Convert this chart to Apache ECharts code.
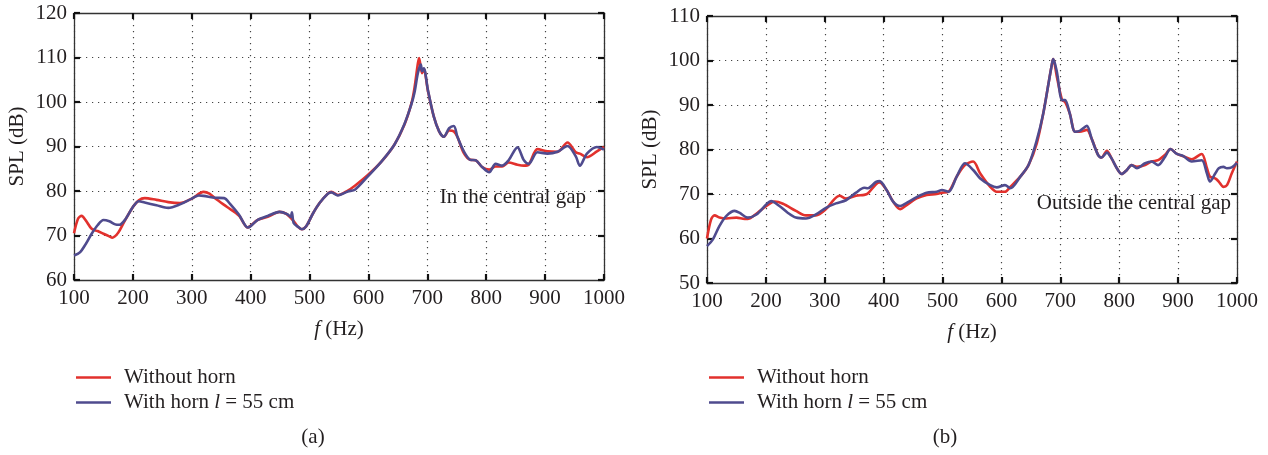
<!DOCTYPE html>
<html>
<head>
<meta charset="utf-8">
<title>SPL with and without horn</title>
<script src="https://cdn.jsdelivr.net/npm/echarts@6/dist/echarts.min.js"></script>
<style>
  html, body { margin: 0; padding: 0; background: #fff; }
  #chart { width: 1268px; height: 455px; }
</style>
</head>
<body>
<div id="chart"></div>
<script>
// (a) in the central gap
const freqA_red = [100,107,113,120,130,140,150,160,165,175,185,200,210,220,240,260,280,300,320,330,340,360,380,395,400,412,429,449,460,472,480,487,494,506,517,531,537,548,565,577,599,622,644,661,673,678,684,686,691,694,701,711,720,728,737,745,751,762,773,782,793,805,816,827,838,853,864,872,887,904,921,938,952,959,971,988,1000];
const splA_red = [70.5,73.8,74.4,73.4,71.5,71.0,70.4,69.8,69.5,70.6,73.0,76.4,77.9,78.4,78.0,77.5,77.3,78.3,79.8,79.4,78.3,76.4,74.5,71.8,72.2,73.5,74.2,75.3,74.9,73.4,72.0,71.4,72.0,75.0,77.3,79.4,79.8,79.1,80.1,81.2,83.6,86.6,90.4,94.9,99.7,103,108.7,109.9,106.5,107.4,102.5,96.7,93.4,92.2,93.6,93.4,92.2,88.5,87.0,86.9,85.4,84.8,85.5,85.5,86.4,85.9,85.7,85.9,89.4,88.9,88.8,90.9,88.7,88.4,87.6,88.9,89.9];
const freqA_blue = [100,110,120,130,140,150,160,170,177,187,200,210,220,240,260,280,300,312,320,340,355,365,380,395,400,412,429,449,462,468,470,473,480,487,494,506,517,531,537,548,565,577,599,622,644,661,673,678,684,689,691,694,701,711,720,728,737,745,751,762,773,782,793,805,816,827,838,853,864,872,887,904,921,938,952,959,971,988,1000];
const splA_blue = [65.5,66.2,68.1,70.4,72.3,73.5,73.2,72.5,72.4,73.6,76.4,77.7,77.4,76.8,76.2,77.0,78.3,79.0,78.9,78.5,78.4,77.1,74.7,71.8,72.1,73.5,74.4,75.3,74.8,74.2,75.2,72.8,72.0,71.4,72.0,75.0,77.3,79.4,79.7,79.0,79.9,80.3,83.3,86.6,90.4,95.0,99.5,102,106.5,108.4,106.9,107.6,102.7,96.7,93.4,92.2,94.1,94.6,92.2,88.9,87.0,86.9,85.4,84.2,86.1,85.7,86.9,89.8,86.9,86.1,88.7,88.4,88.8,90.1,87.8,85.7,88.4,89.9,89.3];

// (b) outside the central gap
const freqB_red = [100,107,113,121,133,150,164,172,186,201,215,229,251,268,285,302,316,325,336,353,367,373,387,393,405,416,428,439,456,473,490,499,510,524,538,552,564,581,592,606,615,632,646,660,671,680,686,688,694,703,708,716,725,733,745,753,764,770,779,787,796,804,813,821,830,844,855,866,878,887,898,909,923,940,949,954,963,969,977,983,991,1000];
const splB_red = [60.0,64.3,65.2,64.7,64.5,64.7,64.4,64.5,65.8,67.3,68.3,67.8,66.2,65.2,65.2,66.6,68.8,69.6,69.0,69.6,69.8,70.1,72.2,72.6,70.9,68.3,66.6,67.5,69.0,69.8,70.0,70.3,70.5,73.9,76.5,77.3,74.6,71.6,70.5,70.5,71.6,73.9,76.5,81.4,88.1,94.9,99.4,100.3,96.4,91.1,90.7,88.1,84.0,84.0,84.4,82.5,78.8,78.2,79.7,78.0,75.8,74.5,75.4,76.5,76.1,76.5,77.3,77.6,78.8,80.1,79.0,78.5,77.8,79.0,75.8,73.9,73.5,72.8,71.6,72.0,74.6,77.3];
const freqB_blue = [100,110,121,133,147,155,169,184,201,209,223,237,251,268,285,302,319,336,353,367,373,387,393,405,416,428,439,456,473,490,499,510,524,538,552,564,581,592,606,615,632,646,660,671,680,686,688,694,703,708,716,725,733,745,753,764,770,779,787,796,804,813,821,830,844,855,866,878,887,898,909,923,940,949,954,963,969,977,983,991,1000];
const splB_blue = [58.3,59.8,62.8,65.1,66.2,65.8,64.7,65.4,67.7,68.4,67.3,65.8,64.7,64.5,65.4,66.9,67.9,68.6,70.3,71.4,71.3,72.7,72.9,70.9,68.3,67.3,68.0,69.3,70.3,70.5,70.9,70.5,73.9,76.9,75.4,73.5,72.0,71.5,72.0,71.3,73.9,76.5,82.1,88.1,94.9,99.4,100.3,97.5,91.1,91.1,88.1,84.0,84.2,85.3,82.5,78.8,78.2,79.3,78.0,75.8,74.5,75.4,76.5,75.8,76.9,77.3,76.5,78.4,80.1,79.0,78.5,77.3,77.6,74.6,72.8,74.6,75.8,76.1,75.8,76.0,77.0];

const xTicks = [100, 1000, 100];       // min, max, interval
const yTicksA = [60, 120, 10];
const yTicksB = [50, 110, 10];

const seriesNames = ['Without horn', 'With horn l = 55 cm'];
const RED = '#e2312d';
const BLUE = '#4f4b8e';
const FONT = '"Liberation Serif", "DejaVu Serif", serif';
const FS = 21;
const INK = '#231f20';

const zip = (xs, ys) => xs.map((x, i) => [x, ys[i]]);

function axesFor(grid, ticks, isX) {
  const base = {
    type: 'value',
    gridIndex: grid,
    min: ticks[0], max: ticks[1], interval: ticks[2],
    axisLine: { show: true, onZero: false, lineStyle: { color: '#333', width: 1.3 } },
    axisTick: { show: true, inside: true, length: 6, lineStyle: { color: '#111', width: 2.2 } },
  };
  const main = Object.assign({}, base, {
    position: isX ? 'bottom' : 'left',
    axisLabel: { color: INK, fontFamily: FONT, fontSize: FS, margin: isX ? 8 : 7,
      formatter: v => String(v) },
    splitLine: { show: true, lineStyle: { color: '#444', width: 1.2, type: [1.2, 4.8] } },
  });
  const other = Object.assign({}, base, {
    position: isX ? 'top' : 'right',
    axisLabel: { show: false },
    splitLine: { show: false },
  });
  return [main, other];
}

const xA = axesFor(0, xTicks, true), xB = axesFor(1, xTicks, true);
const yA = axesFor(0, yTicksA, false), yB = axesFor(1, yTicksB, false);
[xA[0], xB[0]].forEach(a => {
  a.name = '{i|f} (Hz)';
  a.nameLocation = 'middle';
  a.nameGap = 39;
  a.nameTextStyle = { color: INK, fontFamily: FONT, fontSize: FS,
    rich: { i: { fontStyle: 'italic', fontFamily: FONT, fontSize: FS, color: INK } } };
});
[yA[0], yB[0]].forEach(a => {
  a.name = 'SPL (dB)';
  a.nameLocation = 'middle';
  a.nameGap = 46;
  a.nameTextStyle = { color: INK, fontFamily: FONT, fontSize: FS };
});

function line(name, color, xi, yi, data) {
  return {
    name, type: 'line', xAxisIndex: xi, yAxisIndex: yi,
    data, smooth: 0.3, showSymbol: false, symbol: 'none',
    color, lineStyle: { color, width: 2.6 }, z: name === seriesNames[1] ? 3 : 2,
  };
}

function legendAt(left) {
  return {
    left, top: 367, orient: 'vertical', itemGap: 4, padding: 0,
    icon: 'rect', itemWidth: 35, itemHeight: 2.5,
    selectedMode: false,
    data: seriesNames,
    formatter: n => n === seriesNames[1] ? 'With horn {i|l} = 55 cm' : n,
    textStyle: { color: INK, fontFamily: FONT, fontSize: FS, padding: [0, 0, 0, 8],
      rich: { i: { fontStyle: 'italic', fontFamily: FONT, fontSize: FS, color: INK } } },
  };
}

function label(text, x, y, align) {
  return { type: 'text', x, y,
    style: { text, align, verticalAlign: 'middle', font: FS + 'px ' + FONT, fill: INK } };
}

const chart = echarts.init(document.getElementById('chart'), null, { renderer: 'canvas' });
chart.setOption({
  animation: false,
  backgroundColor: '#fff',
  grid: [
    { left: 74, top: 13, width: 530, height: 267 },
    { left: 707, top: 16, width: 530, height: 267 },
  ],
  xAxis: [xA[0], xA[1], xB[0], xB[1]],
  yAxis: [yA[0], yA[1], yB[0], yB[1]],
  legend: [legendAt(76), legendAt(709)],
  series: [
    line(seriesNames[0], RED, 0, 0, zip(freqA_red, splA_red)),
    line(seriesNames[1], BLUE, 0, 0, zip(freqA_blue, splA_blue)),
    line(seriesNames[0], RED, 2, 2, zip(freqB_red, splB_red)),
    line(seriesNames[1], BLUE, 2, 2, zip(freqB_blue, splB_blue)),
  ],
  graphic: [
    label('In the central gap', 586, 197, 'right'),
    label('Outside the central gap', 1231, 203, 'right'),
    label('(a)', 313, 437, 'center'),
    label('(b)', 945, 437, 'center'),
  ],
});
window.addEventListener('resize', () => chart.resize());
</script>
</body>
</html>
